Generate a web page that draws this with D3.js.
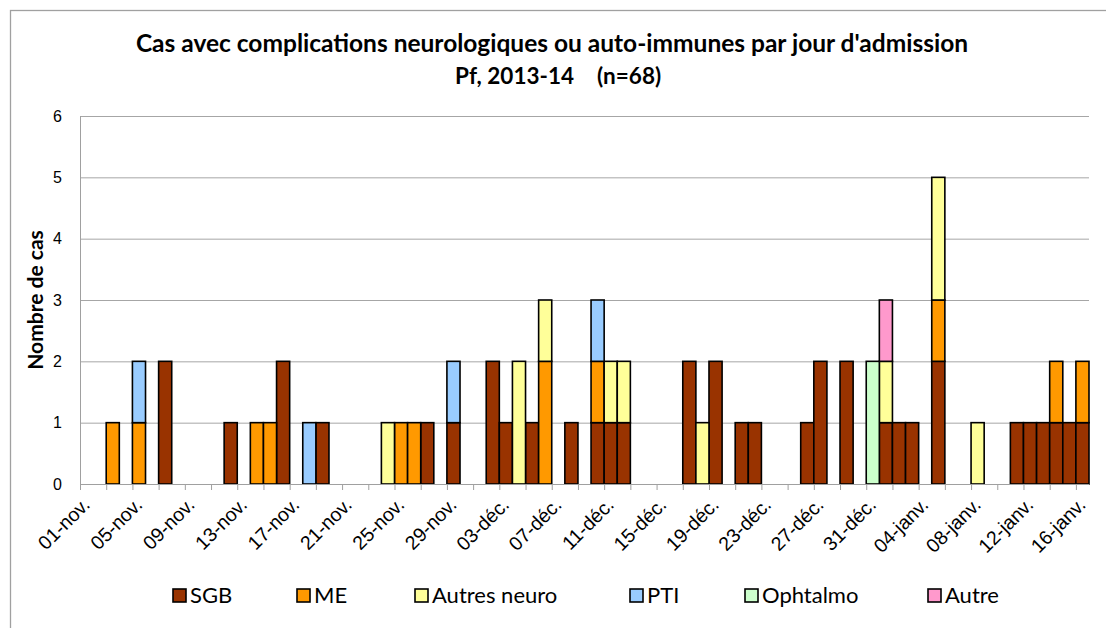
<!DOCTYPE html>
<html>
<head>
<meta charset="utf-8">
<script src="https://cdn.jsdelivr.net/npm/d3@7"></script>
<style>
  body { margin: 0; background: #fff; }
  svg { font-family: Lato, "Open Sans", sans-serif; }
  .grid line { stroke: #a6a6a6; stroke-width: 1px; }
  .grid path { display: none; }
  .tick text { fill: #000; }
</style>
</head>
<body>
<svg id="chart" width="1106" height="628"></svg>
<script>
// one value per admission day, from 01-nov. (index 0) to 16-janv. (index 76)
var nDays = 77;
var tickLabels = ['01-nov.', '05-nov.', '09-nov.', '13-nov.', '17-nov.', '21-nov.', '25-nov.', '29-nov.',
  '03-déc.', '07-déc.', '11-déc.', '15-déc.', '19-déc.', '23-déc.', '27-déc.', '31-déc.',
  '04-janv.', '08-janv.', '12-janv.', '16-janv.'];
var yTicks = [0, 1, 2, 3, 4, 5, 6];

var seriesNames = ['SGB', 'ME', 'Autres neuro', 'PTI', 'Ophtalmo', 'Autre'];
var seriesColors = ['#993300', '#ff9900', '#ffff99', '#99ccff', '#ccffcc', '#ff99cc'];

//           0 1 2 3 4 5 6 7 8 9 10  2   4   6   8 20  2   4   6   8 30  2   4   6   8 40  2   4   6   8 50  2   4   6   8 60  2   4   6   8 70  2   4   6
var sgb   = [0,0,0,0,0,0,2,0,0,0,0,1,0,0,0,2,0,0,1,0,0,0,0,0,0,0,1,0,1,0,0,2,1,0,1,0,0,1,0,1,1,1,0,0,0,0,2,0,2,0,1,1,0,0,0,1,2,0,2,0,0,1,1,1,0,2,0,0,0,0,0,1,1,1,1,1,1];
var me    = [0,0,1,0,1,0,0,0,0,0,0,0,0,1,1,0,0,0,0,0,0,0,0,0,1,1,0,0,0,0,0,0,0,0,0,2,0,0,0,1,0,0,0,0,0,0,0,0,0,0,0,0,0,0,0,0,0,0,0,0,0,0,0,0,0,1,0,0,0,0,0,0,0,0,1,0,1];
var autres= [0,0,0,0,0,0,0,0,0,0,0,0,0,0,0,0,0,0,0,0,0,0,0,1,0,0,0,0,0,0,0,0,0,2,0,1,0,0,0,0,1,1,0,0,0,0,0,1,0,0,0,0,0,0,0,0,0,0,0,0,0,1,0,0,0,2,0,0,1,0,0,0,0,0,0,0,0];
var pti   = [0,0,0,0,1,0,0,0,0,0,0,0,0,0,0,0,0,1,0,0,0,0,0,0,0,0,0,0,1,0,0,0,0,0,0,0,0,0,0,1,0,0,0,0,0,0,0,0,0,0,0,0,0,0,0,0,0,0,0,0,0,0,0,0,0,0,0,0,0,0,0,0,0,0,0,0,0];
var ophta = [0,0,0,0,0,0,0,0,0,0,0,0,0,0,0,0,0,0,0,0,0,0,0,0,0,0,0,0,0,0,0,0,0,0,0,0,0,0,0,0,0,0,0,0,0,0,0,0,0,0,0,0,0,0,0,0,0,0,0,0,2,0,0,0,0,0,0,0,0,0,0,0,0,0,0,0,0];
var autre = [0,0,0,0,0,0,0,0,0,0,0,0,0,0,0,0,0,0,0,0,0,0,0,0,0,0,0,0,0,0,0,0,0,0,0,0,0,0,0,0,0,0,0,0,0,0,0,0,0,0,0,0,0,0,0,0,0,0,0,0,0,1,0,0,0,0,0,0,0,0,0,0,0,0,0,0,0];
var seriesValues = [sgb, me, autres, pti, ophta, autre];

var frame = { width: 1106, height: 628, top: 116, right: 17, bottom: 144, left: 80 };
frame.innerWidth = frame.width - frame.left - frame.right;
frame.innerHeight = frame.height - frame.top - frame.bottom;

var svg = d3.select('#chart');

// outer chart border (runs off the right and bottom of the picture)
svg.append('rect')
  .attr('x', 10.5).attr('y', 10.5).attr('width', 1120).attr('height', 640)
  .attr('fill', 'none').attr('stroke', '#a0a0a0').attr('stroke-width', 1.3);

var rows = d3.range(nDays).map(i => {
  var r = { day: i };
  seriesNames.forEach((s, k) => r[s] = seriesValues[k][i]);
  return r;
});

var x = d3.scaleBand().domain(d3.range(nDays)).range([0, frame.innerWidth]).padding(0);
var xDay = d3.scaleLinear().domain([0, nDays]).range([0, frame.innerWidth]);
var y = d3.scaleLinear().domain([0, 6]).range([frame.innerHeight, 0]);
var color = d3.scaleOrdinal(seriesNames, seriesColors);

var g = svg.append('g').attr('transform', 'translate(' + frame.left + ',' + frame.top + ')');

// horizontal gridlines + y labels
var yAxis = g.append('g').attr('class', 'grid')
  .call(d3.axisLeft(y).tickValues(yTicks).tickSize(-frame.innerWidth).tickPadding(18).tickFormat(d3.format('d')));
yAxis.selectAll('text').style('font-size', '16px');

// y axis line
g.append('line').attr('x1', 0.5).attr('x2', 0.5).attr('y1', 0).attr('y2', frame.innerHeight)
  .attr('stroke', '#a0a0a0');

// bars
var stacked = d3.stack().keys(seriesNames)(rows);
g.append('g').selectAll('g').data(stacked).join('g')
  .attr('fill', d => color(d.key))
  .selectAll('rect').data(d => d.filter(p => p[1] > p[0])).join('rect')
  .attr('x', p => x(p.data.day))
  .attr('width', x.bandwidth())
  .attr('y', p => y(p[1]))
  .attr('height', p => y(p[0]) - y(p[1]))
  .attr('stroke', '#000').attr('stroke-width', 1.6);

// x axis: tick marks every 2 days
var xAxis = g.append('g').attr('transform', 'translate(0,' + frame.innerHeight + ')')
  .call(d3.axisBottom(xDay).tickValues(d3.range(0, nDays, 2)).tickSize(6).tickSizeOuter(0).tickFormat(''));
xAxis.select('.domain').attr('stroke', '#a0a0a0').attr('d', 'M0,0.5H' + frame.innerWidth);
xAxis.selectAll('.tick line').attr('stroke', '#a0a0a0');

// x labels every 4 days, centred on the day
var xLab = g.append('g').attr('transform', 'translate(0,' + frame.innerHeight + ')')
  .call(d3.axisBottom(xDay).tickValues(d3.range(0, nDays, 4).map(d => d + 0.5)).tickSize(0)
    .tickFormat((d, i) => tickLabels[i]));
xLab.select('.domain').remove();
xLab.selectAll('text')
  .style('font-size', '19.5px')
  .attr('text-anchor', 'end')
  .attr('transform', 'translate(4,22) rotate(-45)')
  .attr('dy', 0).attr('y', 0).attr('x', 0);

// y axis title
svg.append('text')
  .attr('transform', 'translate(43,' + (frame.top + frame.innerHeight / 2) + ') rotate(-90)')
  .attr('text-anchor', 'middle')
  .style('font-size', '21px').style('font-weight', 'bold')
  .text('Nombre de cas');

// title
var title = svg.append('g').style('font-weight', 'bold');
title.append('text').attr('text-anchor', 'middle').attr('x', 552).attr('y', 52).style('font-size', '24.5px')
  .text("Cas avec complications neurologiques ou auto-immunes par jour d'admission");
title.append('text').attr('text-anchor', 'end').attr('x', 574).attr('y', 84).style('font-size', '22.5px')
  .text('Pf, 2013-14');
title.append('text').attr('text-anchor', 'start').attr('x', 597).attr('y', 84).style('font-size', '22.5px')
  .text('(n=68)');

// legend
var legendX = [173, 297, 415, 630, 745, 928];
var leg = svg.append('g').selectAll('g').data(seriesNames).join('g')
  .attr('transform', (d, i) => 'translate(' + legendX[i] + ',589)');
leg.append('rect').attr('width', 13).attr('height', 13)
  .attr('fill', d => color(d)).attr('stroke', '#000').attr('stroke-width', 1.6);
leg.append('text').attr('x', 17).attr('y', 14).style('font-size', '22px').text(d => d);
</script>
</body>
</html>
